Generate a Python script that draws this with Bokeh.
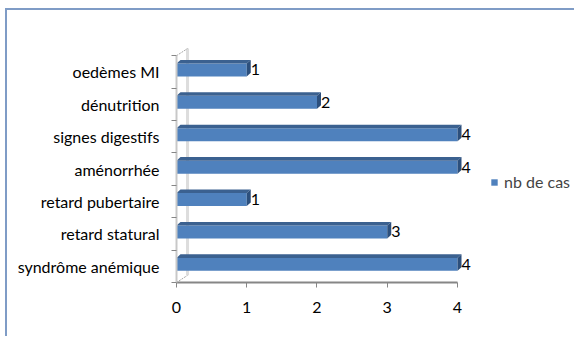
import numpy as np
from bokeh.plotting import figure
from bokeh.models import FixedTicker, Legend, LegendItem
from bokeh.core.properties import value
from bokeh.embed import file_html
from bokeh.resources import INLINE

# ---- data (bottom to top) ----
categories = ["syndrôme anémique", "retard statural", "retard pubertaire",
              "aménorrhée", "signes digestifs", "dénutrition", "oedèmes MI"]
counts = [4, 3, 1, 4, 4, 2, 1]
x_ticks = [0, 1, 2, 3, 4]
series_name = "nb de cas"

FONT = "Lato"
FS = "16px"
FRONT = "#4F81BD"
TOP = "#3B6190"
SIDE = "#2C4F7C"

n = len(categories)
centers = np.arange(n) + 0.5 + 0.06
bar_h = 0.40
ddx, ddy = 0.057, 0.11          # small 3D depth of bars (data units)
wdx, wdy = 0.157, 0.22          # depth of the back wall

p = figure(width=569, height=328, output_backend="svg", toolbar_location=None,
           x_range=(0, 5.694), y_range=(0, 7.253),
           min_border_left=169, min_border_right=0, min_border_top=37,
           min_border_bottom=56)
p.styles = {"margin-left": "5px", "margin-top": "8px",
            "border-left": "2px solid #7F9CC6", "border-top": "2px solid #7F9CC6"}
p.outline_line_color = None
p.xgrid.visible = False
p.ygrid.visible = False
p.background_fill_color = "white"
p.border_fill_color = "white"

# back wall (3D)
p.segment(x0=[wdx], y0=[wdy], x1=[wdx], y1=[n + wdy], line_color="#DDDDDD", line_width=3)
p.segment(x0=[0, 0], y0=[0, n], x1=[wdx, wdx], y1=[wdy, n + wdy],
          line_color="#A6A6A6", line_width=1, line_dash="2 1")

# bars
r = p.hbar(y=centers, left=0, right=counts, height=bar_h,
           fill_color=FRONT, line_color=None)
tops_x, tops_y, sides_x, sides_y = [], [], [], []
for c, v in zip(centers, counts):
    yt, yb = c + bar_h / 2, c - bar_h / 2
    tops_x.append([0, v, v + ddx, ddx])
    tops_y.append([yt, yt, yt + ddy, yt + ddy])
    sides_x.append([v, v, v + ddx, v + ddx])
    sides_y.append([yb, yt, yt + ddy, yb + ddy])
p.patches(tops_x, tops_y, fill_color=TOP, line_color=None)
p.patches(sides_x, sides_y, fill_color=SIDE, line_color=None)

# value labels
p.text(x=counts, y=centers, text=[str(v) for v in counts], x_offset=4,
       text_baseline="middle", text_align="left", text_font=value(FONT),
       text_font_size=FS, text_color="#000000")

# axes
xa = p.xaxis[0]
xa.ticker = FixedTicker(ticks=x_ticks)
xa.bounds = (0, 4)
xa.axis_line_color = "#868686"
xa.axis_line_width = 2
xa.major_tick_line_color = "#868686"
xa.major_tick_in = 0
xa.major_tick_out = 5
xa.minor_tick_line_color = None
xa.major_label_standoff = 14
xa.major_label_text_font = FONT
xa.major_label_text_font_size = FS
xa.major_label_text_color = "#000000"

ya = p.yaxis[0]
ya.ticker = FixedTicker(ticks=list(np.arange(n) + 0.5), minor_ticks=list(range(n + 1)))
ya.major_label_overrides = {float(i + 0.5): categories[i] for i in range(n)}
ya.bounds = (0, n)
ya.axis_line_color = "#C8C8C8"
ya.axis_line_width = 2
ya.major_tick_line_color = None
ya.major_tick_out = 0
ya.major_tick_in = 0
ya.minor_tick_line_color = "#868686"
ya.minor_tick_out = 5
ya.minor_tick_in = 0
ya.major_label_standoff = 12
ya.major_label_text_font = FONT
ya.major_label_text_font_size = FS
ya.major_label_text_color = "#000000"

legend = Legend(items=[LegendItem(label=series_name, renderers=[r])],
                location=(314, 91), padding=0, margin=0, spacing=0,
                glyph_width=8, glyph_height=8, label_standoff=6, label_height=16,
                label_text_font=FONT, label_text_font_size=FS,
                border_line_color=None, background_fill_alpha=0)
p.add_layout(legend)

open("out.html", "w").write(file_html(p, INLINE))
